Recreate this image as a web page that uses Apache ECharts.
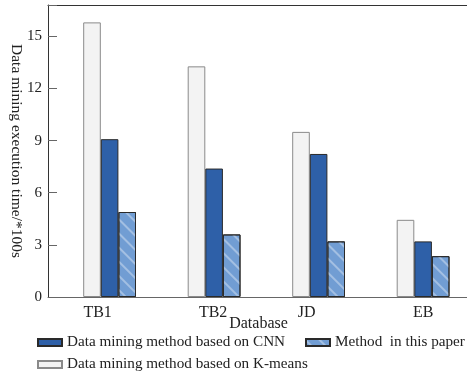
<!DOCTYPE html>
<html>
<head>
<meta charset="utf-8">
<script src="https://cdn.jsdelivr.net/npm/echarts@6/dist/echarts.min.js"></script>
<style>html,body{margin:0;padding:0;background:#fff}#c{width:467px;height:375px}</style>
</head>
<body>
<div id="c"></div>
<script>
var categories = ['TB1', 'TB2', 'JD', 'EB'];
var kmeans = [15.8, 13.27, 9.5, 4.44];
var cnn = [9.08, 7.39, 8.23, 3.2];
var paper = [4.89, 3.6, 3.2, 2.35];
var yTicks = [0, 3, 6, 9, 12, 15];
var seriesNames = ['Data mining method based on CNN', 'Method  in this paper', 'Data mining method based on K-means'];

var font = '"Liberation Serif", "Times New Roman", serif';
var chart = echarts.init(document.getElementById('c'), null, {renderer: 'canvas'});
var labelShift = [24, 2, 24, 0];
var rich = {};
labelShift.forEach(function (s, i) {
  rich['c' + i] = {fontFamily: font, fontSize: 16, color: '#222', padding: [0, s, 0, 0]};
});
var yMax = 16.8;
var legendText = {fontFamily: font, fontSize: 15.2, color: '#222'};
chart.setOption({
  animation: false,
  grid: [
    {left: 48, right: -2, top: 5, bottom: 78, containLabel: false, outerBoundsMode: 'none'},
    {left: 57.35, right: -8.35, top: 5, bottom: 78, containLabel: false, outerBoundsMode: 'none'}
  ],
  legend: [
    {data: [{name: seriesNames[0], icon: 'rect'}], left: 37, top: 335, padding: 0, itemWidth: 24, itemHeight: 7, textStyle: legendText},
    {data: [{name: seriesNames[1], icon: 'rect'}], left: 305, top: 335, padding: 0, itemWidth: 24, itemHeight: 7, width: 400, textStyle: legendText},
    {data: [{name: seriesNames[2], icon: 'rect'}], left: 37, top: 357, padding: 0, itemWidth: 24, itemHeight: 7, textStyle: legendText}
  ],
  xAxis: [
    {type: 'value', gridIndex: 0, position: 'bottom', min: 0, max: 1,
     axisLine: {show: true, lineStyle: {color: '#666', width: 1}},
     axisTick: {show: false}, axisLabel: {show: false}, splitLine: {show: false},
     name: 'Database', nameLocation: 'middle', nameGap: 19, nameMoveOverlap: false,
     nameTextStyle: {fontFamily: font, fontSize: 16, color: '#222'}},
    {type: 'value', gridIndex: 0, position: 'top', min: 0, max: 1,
     axisLine: {show: true, onZero: false, lineStyle: {color: '#333', width: 1}},
     axisTick: {show: false}, axisLabel: {show: false}, splitLine: {show: false}},
    {type: 'category', gridIndex: 1, data: categories,
     axisLine: {show: false}, axisTick: {show: false}, splitLine: {show: false},
     axisLabel: {margin: 8, formatter: function (v, i) { return '{c' + i + '|' + v + '}'; }, rich: rich}}
  ],
  yAxis: [
    {type: 'value', gridIndex: 0, min: 0, max: yMax, interval: 3,
     axisLine: {show: true, lineStyle: {color: '#333', width: 1}},
     axisTick: {show: true, inside: true, length: 9, lineStyle: {color: '#666'}},
     axisLabel: {margin: 6, fontFamily: font, fontSize: 15, color: '#222',
       formatter: function (v) { return yTicks.indexOf(v) >= 0 ? String(v) : ''; }},
     splitLine: {show: false},
     name: 'Data mining execution time/*100s', nameLocation: 'middle', nameRotate: -90, nameGap: 24,
     nameMoveOverlap: false,
     nameTextStyle: {fontFamily: font, fontSize: 15.5, color: '#222'}},
    {type: 'value', gridIndex: 1, min: 0, max: yMax, show: false}
  ],
  series: [
    {name: seriesNames[2], type: 'bar', xAxisIndex: 2, yAxisIndex: 1, data: kmeans,
     barWidth: 17.6, barGap: '0%',
     itemStyle: {color: '#f3f3f3', borderColor: '#8a8a8a', borderWidth: 1}},
    {name: seriesNames[0], type: 'bar', xAxisIndex: 2, yAxisIndex: 1, data: cnn,
     barWidth: 17.6, barGap: '0%',
     itemStyle: {color: '#2e60a8', borderColor: '#2a2a2a', borderWidth: 1}},
    {name: seriesNames[1], type: 'bar', xAxisIndex: 2, yAxisIndex: 1, data: paper,
     barWidth: 17.6, barGap: '0%',
     itemStyle: {color: '#719dd3', borderColor: '#2a2a2a', borderWidth: 1,
       decal: {symbol: 'rect', dashArrayX: [1, 0], dashArrayY: [1.2, 8], rotation: Math.PI / 4, color: 'rgba(255,255,255,0.35)'}}}
  ]
});
</script>
</body>
</html>
